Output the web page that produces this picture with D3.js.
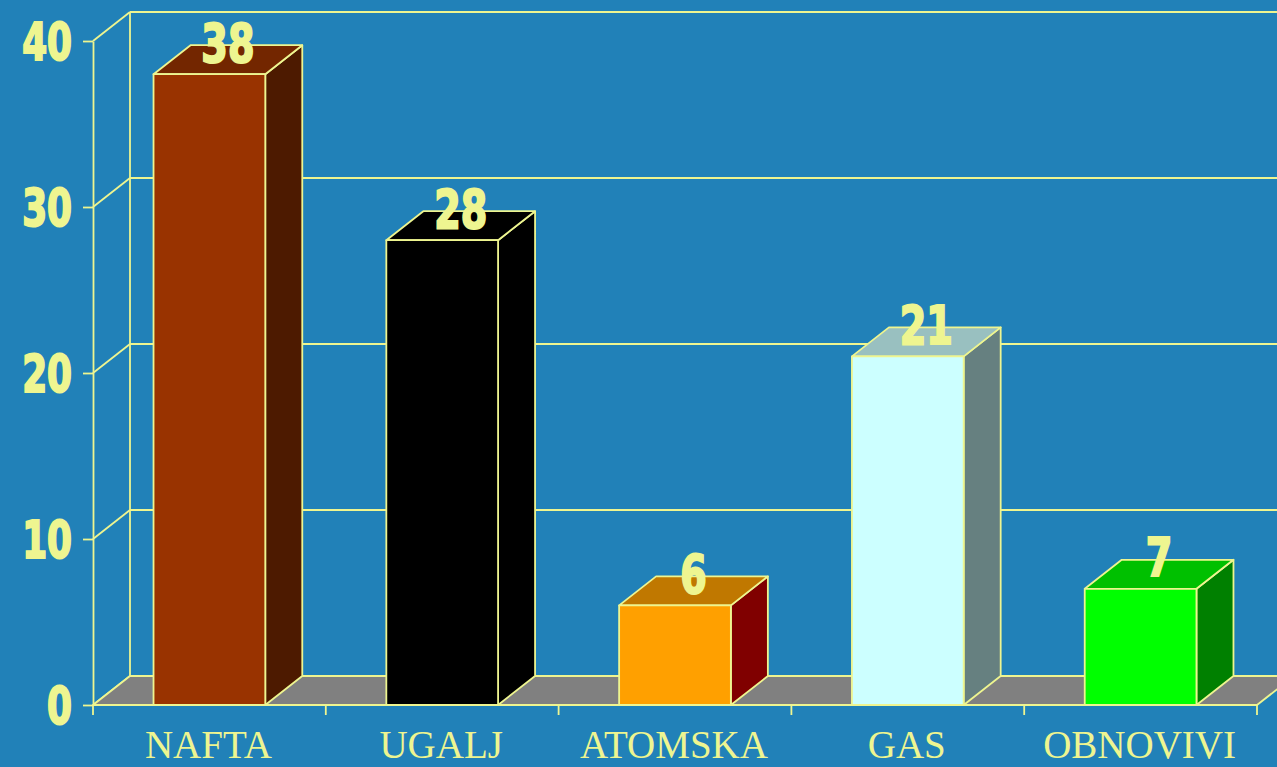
<!DOCTYPE html>
<html>
<head>
<meta charset="utf-8">
<script src="https://cdn.jsdelivr.net/npm/d3@7"></script>
<style>
  html, body { margin: 0; padding: 0; background: #2181b8; overflow: hidden; }
  svg { display: block; }
</style>
</head>
<body>
<svg id="chart" width="1277" height="767"></svg>
<script>
// Energy source shares (%)
const categories = ["NAFTA", "UGALJ", "ATOMSKA", "GAS", "OBNOVIVI"];
const values = [38, 28, 6, 21, 7];
const yTicks = [0, 10, 20, 30, 40];

// Face colours per bar: front, top, right side
const frontColors = ["#993300", "#000000", "#ffa000", "#ccffff", "#00ff00"];
const topColors   = ["#732600", "#000000", "#c07800", "#99c0c0", "#00c000"];
const sideColors  = ["#4d1a00", "#000000", "#800000", "#668080", "#008000"];

const W = 1277, H = 767;
const ink = "#eef590";
const floorFill = "#808080";
const depthX = 37, depthY = 29;        // oblique offset of the back plane
const lw = 1.8;

const svg = d3.select("#chart");
svg.append("rect").attr("width", W).attr("height", H).attr("fill", "#2181b8");

const x = d3.scaleBand().domain(categories).range([93, 1257]).padding(0);
const y = d3.scaleLinear().domain([0, 40]).range([705, 41]);
const barW = x.bandwidth() * 0.48;

const g = svg.append("g");
const line = (x1, y1, x2, y2, w = lw) =>
  g.append("line").attr("x1", x1).attr("y1", y1).attr("x2", x2).attr("y2", y2)
    .attr("stroke", ink).attr("stroke-width", w);

// Back wall: vertical edge and horizontal gridlines
line(93 + depthX, y(40) - depthY, 93 + depthX, y(0) - depthY);
yTicks.forEach(t => line(93 + depthX, y(t) - depthY, W + 5, y(t) - depthY));
// Left wall: diagonals from the front axis to the back wall
yTicks.forEach(t => line(93, y(t), 93 + depthX, y(t) - depthY));

// Floor
const x0 = x.range()[0], x1 = x.range()[1];
g.append("path")
  .attr("d", `M${x0},${y(0)} L${x0 + depthX},${y(0) - depthY} L${x1 + depthX},${y(0) - depthY} L${x1},${y(0)} Z`)
  .attr("fill", floorFill).attr("stroke", ink).attr("stroke-width", lw)
  .attr("stroke-linejoin", "round");

// Y axis
const yAxis = d3.axisLeft(y).tickValues(yTicks).tickSize(10).tickSizeOuter(0).tickPadding(11);
const ya = svg.append("g").attr("transform", "translate(93,0)").call(yAxis);
ya.select(".domain").attr("stroke", ink).attr("stroke-width", lw);
ya.selectAll(".tick line").attr("stroke", ink).attr("stroke-width", lw);
ya.selectAll(".tick text").remove();
ya.selectAll(".tick").append("g")
  .attr("transform", "translate(-21,0) scale(0.78,1)")
  .append("text")
  .attr("text-anchor", "end").attr("dy", "0.36em")
  .attr("fill", ink)
  .attr("font-family", "'DejaVu Sans Condensed', 'DejaVu Sans', sans-serif")
  .attr("font-weight", "bold").attr("font-size", 51)
  .attr("stroke", ink).attr("stroke-width", 2)
  .text(d => d);

// X axis: separator ticks at band edges, labels centred on bands
const edges = d3.range(categories.length + 1).map(i => x0 + i * x.step());
edges.forEach(e => line(e, y(0), e, y(0) + 10));
svg.append("g").selectAll("text").data(categories).join("text")
  .attr("x", d => x(d) + x.bandwidth() / 2 - 1)
  .attr("y", 758)
  .attr("text-anchor", "middle")
  .attr("fill", ink)
  .attr("font-family", "'Liberation Serif', 'Times New Roman', serif")
  .attr("font-size", 39)
  .text(d => d);

// Bars (oblique 3D prisms)
const bars = svg.append("g");
categories.forEach((c, i) => {
  const v = values[i];
  const bx0 = x(c) + (x.bandwidth() - barW) / 2;
  const bx1 = bx0 + barW;
  const top = y(v), base = y(0);
  const bg = bars.append("g")
    .attr("stroke", ink).attr("stroke-width", lw).attr("stroke-linejoin", "round");
  bg.append("path")
    .attr("d", `M${bx1},${top} L${bx1 + depthX},${top - depthY} L${bx1 + depthX},${base - depthY} L${bx1},${base} Z`)
    .attr("fill", sideColors[i]);
  bg.append("path")
    .attr("d", `M${bx0},${top} L${bx0 + depthX},${top - depthY} L${bx1 + depthX},${top - depthY} L${bx1},${top} Z`)
    .attr("fill", topColors[i]);
  bg.append("rect")
    .attr("x", bx0).attr("y", top).attr("width", barW).attr("height", base - top)
    .attr("fill", frontColors[i]);

  // value label on the top face
  bars.append("g")
    .attr("transform", `translate(${(bx0 + bx1) / 2 + depthX / 2},${top - depthY / 2 + 2}) scale(0.8,1)`)
    .append("text")
    .attr("text-anchor", "middle")
    .attr("fill", ink)
    .attr("font-family", "'DejaVu Sans Condensed', 'DejaVu Sans', sans-serif")
    .attr("font-weight", "bold").attr("font-size", 53)
    .attr("stroke", ink).attr("stroke-width", 2)
    .text(v);
});
</script>
</body>
</html>
